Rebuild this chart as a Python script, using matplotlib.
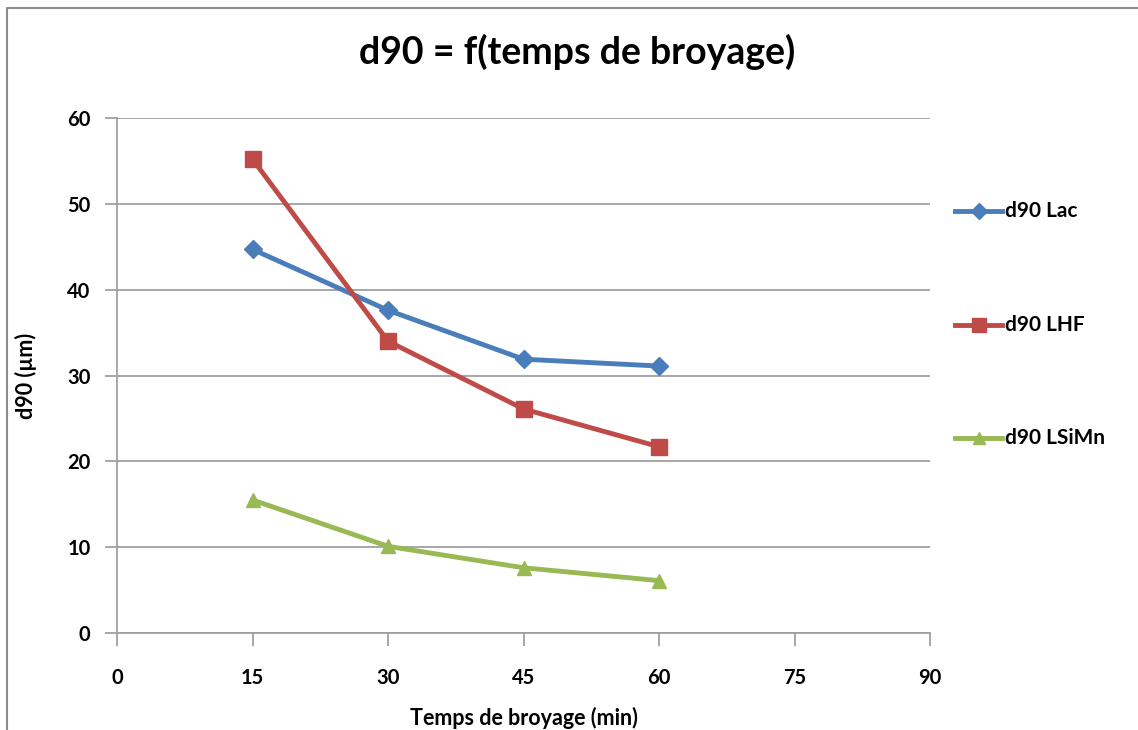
import matplotlib.pyplot as plt
from matplotlib.lines import Line2D

plt.rcParams['font.family'] = ['Lato', 'DejaVu Sans']
plt.rcParams['font.weight'] = 'bold'

# temps de broyage (min)
temps = [15, 30, 45, 60]
d90_lac = [44.7, 37.6, 31.9, 31.1]
d90_lhf = [55.2, 34.0, 26.1, 21.7]
d90_lsimn = [15.5, 10.1, 7.6, 6.1]
noms = ['d90 Lac', 'd90 LHF', 'd90 LSiMn']

W, H = 1138, 730
fig = plt.figure(figsize=(W / 100, H / 100), dpi=100)
ax = fig.add_axes([117 / W, 1 - 633 / H, (930 - 117) / W, (633 - 118) / H])

series = [
    (d90_lac, '#4a7ebb', 'D', 9),
    (d90_lhf, '#be4b48', 's', 11),
    (d90_lsimn, '#98b954', '^', 10),
]
handles = []
for (vals, col, mk, ms), nom in zip(series, noms):
    h, = ax.plot(temps, vals, color=col, lw=3.5, marker=mk, ms=ms,
                 markeredgecolor=col, label=nom, solid_joinstyle='round')
    handles.append(h)

ax.set_xlim(0, 90)
ax.set_ylim(0, 60)
ax.set_xticks(range(0, 91, 15))
ax.set_yticks(range(0, 61, 10))
ax.grid(axis='y', color='#a0a0a0', lw=1.3)
ax.set_axisbelow(True)
for s in ['top', 'right']:
    ax.spines[s].set_visible(False)
for s in ['left', 'bottom']:
    ax.spines[s].set_color('#a0a0a0')
    ax.spines[s].set_linewidth(1.3)
ax.tick_params(axis='x', direction='out', length=9, width=1.3, color='#a0a0a0',
               labelsize=14.5, pad=16)
ax.tick_params(axis='y', direction='out', length=9, width=1.3, color='#a0a0a0',
               labelsize=14.5, pad=10)

ax.set_xlabel('Temps de broyage (min)', fontsize=15.5, fontweight='bold', labelpad=14)
ax.set_ylabel('d90 (µm)', fontsize=15.5, fontweight='bold', labelpad=22)
fig.text(577 / W, 1 - 52 / H, 'd90 = f(temps de broyage)', fontsize=27,
         fontweight='bold', ha='center', va='center')

# légende verticale à droite
ypos = [211, 325, 438]
for h, y in zip(handles, ypos):
    yf = 1 - y / H
    fig.add_artist(Line2D([955 / W, 1002 / W], [yf, yf], color=h.get_color(), lw=3.5,
                          transform=fig.transFigure))
    fig.add_artist(Line2D([979 / W], [yf], marker=h.get_marker(), ms=h.get_markersize() * 0.9,
                          color=h.get_color(), transform=fig.transFigure))
    fig.text(1005 / W, yf, h.get_label(), fontsize=15, fontweight='bold', va='center')

# cadre du graphique
fig.add_artist(Line2D([7 / W, 7 / W, 1.0], [0, 1 - 8 / H, 1 - 8 / H],
                      color='#8c8c8c', lw=1.5, transform=fig.transFigure))

fig.savefig('out.png', dpi=100)
